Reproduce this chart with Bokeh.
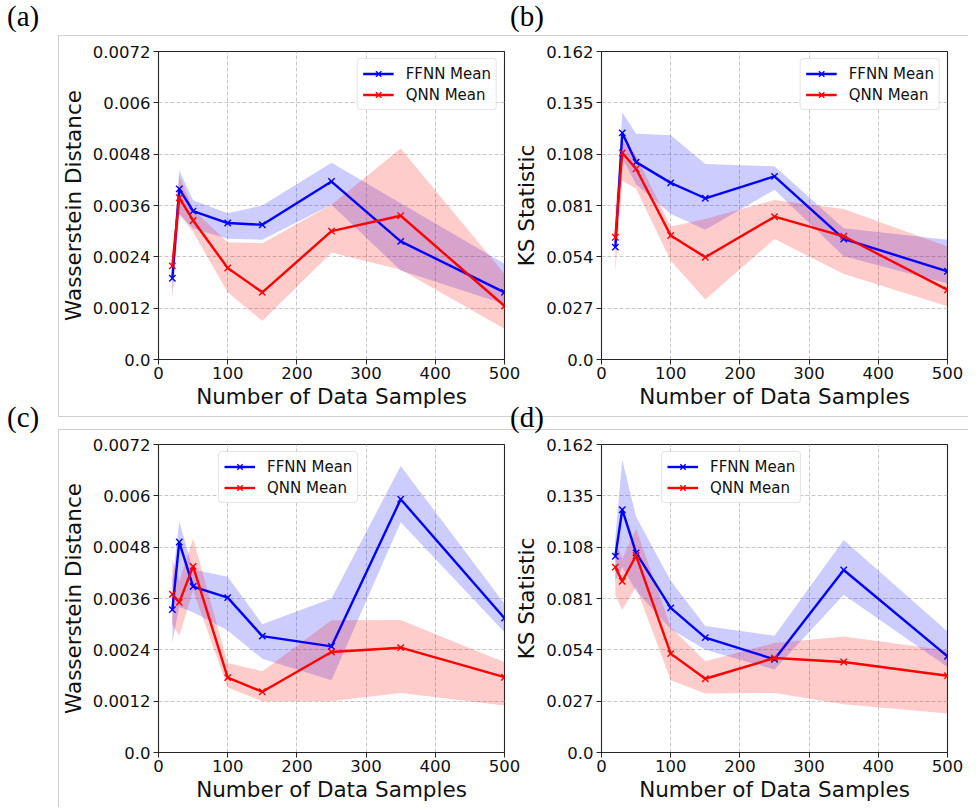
from bokeh.plotting import figure
from bokeh.layouts import column, row
from bokeh.models import Range1d, FixedTicker, Legend, LegendItem, Div
from bokeh.embed import file_html
from bokeh.resources import INLINE

# ---------------- data ----------------
x_samples = [20, 30, 50, 100, 150, 250, 350, 500]

# (a) Wasserstein distance
a_ffnn_mean = [0.00190, 0.00399, 0.00347, 0.00319, 0.00315, 0.00416, 0.00276, 0.00157]
a_ffnn_low = [0.00150, 0.00340, 0.00306, 0.00282, 0.00280, 0.00362, 0.00208, 0.00130]
a_ffnn_high = [0.00225, 0.00442, 0.00372, 0.00342, 0.00360, 0.00460, 0.00365, 0.00224]
a_qnn_mean = [0.00219, 0.00378, 0.00325, 0.00214, 0.00157, 0.00300, 0.00336, 0.00125]
a_qnn_low = [0.00142, 0.00340, 0.00298, 0.00157, 0.00090, 0.00250, 0.00210, 0.00072]
a_qnn_high = [0.00250, 0.00431, 0.00350, 0.00274, 0.00272, 0.00362, 0.00493, 0.00200]

# (b) KS statistic
b_ffnn_mean = [0.0591, 0.1192, 0.1038, 0.0929, 0.0848, 0.0963, 0.0634, 0.0464]
b_ffnn_low = [0.0560, 0.1060, 0.0920, 0.0766, 0.0683, 0.0893, 0.0543, 0.0400]
b_ffnn_high = [0.0620, 0.1300, 0.1187, 0.1180, 0.1028, 0.1016, 0.0690, 0.0630]
b_qnn_mean = [0.0643, 0.1087, 0.1003, 0.0652, 0.0538, 0.0751, 0.0648, 0.0366]
b_qnn_low = [0.0459, 0.0940, 0.0898, 0.0520, 0.0315, 0.0634, 0.0450, 0.0280]
b_qnn_high = [0.0800, 0.1150, 0.1073, 0.0699, 0.0739, 0.0839, 0.0792, 0.0594]

# (c) Wasserstein distance
c_ffnn_mean = [0.00334, 0.00492, 0.00388, 0.00362, 0.00272, 0.00248, 0.00592, 0.00314]
c_ffnn_low = [0.00258, 0.00340, 0.00328, 0.00285, 0.00219, 0.00169, 0.00538, 0.00281]
c_ffnn_high = [0.00400, 0.00540, 0.00428, 0.00411, 0.00300, 0.00360, 0.00670, 0.00348]
c_qnn_mean = [0.00370, 0.00351, 0.00435, 0.00175, 0.00142, 0.00235, 0.00245, 0.00176]
c_qnn_low = [0.00300, 0.00273, 0.00379, 0.00152, 0.00120, 0.00120, 0.00139, 0.00110]
c_qnn_high = [0.00450, 0.00400, 0.00500, 0.00209, 0.00190, 0.00309, 0.00310, 0.00211]

# (d) KS statistic
d_ffnn_mean = [0.1032, 0.1277, 0.1050, 0.0761, 0.0604, 0.0490, 0.0960, 0.0506]
d_ffnn_low = [0.0905, 0.0975, 0.0850, 0.0650, 0.0540, 0.0436, 0.0830, 0.0450]
d_ffnn_high = [0.1132, 0.1540, 0.1240, 0.0904, 0.0665, 0.0614, 0.1118, 0.0637]
d_qnn_mean = [0.0975, 0.0901, 0.1036, 0.0520, 0.0388, 0.0497, 0.0476, 0.0404]
d_qnn_low = [0.0826, 0.0751, 0.0870, 0.0380, 0.0310, 0.0313, 0.0254, 0.0205]
d_qnn_high = [0.1124, 0.1019, 0.1177, 0.0660, 0.0480, 0.0576, 0.0610, 0.0537]

x_ticks = [0, 100, 200, 300, 400, 500]
w_ticks = [0.0, 0.0012, 0.0024, 0.0036, 0.0048, 0.006, 0.0072]
w_tick_labels = ["0.0", "0.0012", "0.0024", "0.0036", "0.0048", "0.006", "0.0072"]
ks_ticks = [0.0, 0.027, 0.054, 0.081, 0.108, 0.135, 0.162]
ks_tick_labels = ["0.0", "0.027", "0.054", "0.081", "0.108", "0.135", "0.162"]

x_label = "Number of Data Samples"
w_label = "Wasserstein Distance"
ks_label = "KS Statistic"
series_names = ["FFNN Mean", "QNN Mean"]
panel_tags = ["(a)", "(b)", "(c)", "(d)"]

FONT = "DejaVu Sans"
BLUE = "#0000ff"
RED = "#ff0000"
FRAME_COL = "#cfcfcf"


def make_panel(fm, fl, fh, qm, ql, qh, yticks, ylabels, ylabel, width, height,
               bl, br, bt, bb, legend_loc, margin):
    p = figure(width=width, height=height, output_backend="svg",
               toolbar_location=None, x_range=Range1d(0, 500),
               y_range=Range1d(yticks[0], yticks[-1]),
               min_border_left=bl, min_border_right=br,
               min_border_top=bt, min_border_bottom=bb)
    p.margin = margin
    p.border_fill_alpha = 0
    p.outline_line_color = "#262626"
    p.outline_line_width = 1.1
    p.background_fill_color = "white"

    # bands
    p.varea(x=x_samples, y1=fl, y2=fh, fill_color=BLUE, fill_alpha=0.2)
    p.varea(x=x_samples, y1=ql, y2=qh, fill_color=RED, fill_alpha=0.2)
    # means
    lf = p.line(x_samples, fm, line_color=BLUE, line_width=2.4)
    sf = p.scatter(x_samples, fm, marker="x", size=9, line_color=BLUE, line_width=1.4)
    lq = p.line(x_samples, qm, line_color=RED, line_width=2.4)
    sq = p.scatter(x_samples, qm, marker="x", size=9, line_color=RED, line_width=1.4)

    for ax in (p.xaxis[0], p.yaxis[0]):
        ax.major_label_text_font = FONT
        ax.major_label_text_font_size = "16.5px"
        ax.major_label_text_color = "#111111"
        ax.axis_label_text_font = FONT
        ax.axis_label_text_font_size = "21.5px"
        ax.axis_label_text_font_style = "normal"
        ax.axis_label_text_color = "#111111"
        ax.major_tick_in = 0
        ax.major_tick_out = 5
        ax.minor_tick_in = 0
        ax.minor_tick_out = 0
        ax.axis_line_color = "#262626"
        ax.major_tick_line_color = "#262626"
    p.xaxis[0].ticker = FixedTicker(ticks=x_ticks)
    p.yaxis[0].ticker = FixedTicker(ticks=yticks)
    p.yaxis[0].major_label_overrides = {t: s for t, s in zip(yticks, ylabels)}
    p.xaxis[0].axis_label = x_label
    p.yaxis[0].axis_label = ylabel
    p.xaxis[0].major_label_standoff = 2
    p.xaxis[0].axis_label_standoff = 2
    p.yaxis[0].major_label_standoff = 3
    p.yaxis[0].axis_label_standoff = 4

    for g in (p.xgrid[0], p.ygrid[0]):
        g.grid_line_color = "#c8c8c8"
        g.grid_line_dash = "4 2"
        g.grid_line_width = 1
    p.xgrid[0].ticker = FixedTicker(ticks=x_ticks)
    p.ygrid[0].ticker = FixedTicker(ticks=yticks)

    leg = Legend(items=[LegendItem(label=series_names[0], renderers=[lf, sf]),
                        LegendItem(label=series_names[1], renderers=[lq, sq])])
    leg.location = legend_loc
    leg.margin = 7
    leg.padding = 5
    leg.spacing = 2
    leg.label_height = 19
    leg.glyph_height = 19
    leg.glyph_width = 31
    leg.label_standoff = 12
    leg.label_text_font = FONT
    leg.label_text_font_size = "15px"
    leg.label_text_color = "#111111"
    leg.border_line_color = "#cccccc"
    leg.border_line_width = 1
    leg.background_fill_alpha = 0.85
    if "border_radius" in leg.properties():
        leg.border_radius = 4
    p.add_layout(leg)
    return p


def tag(text, shift, margin):
    html = ('<div style="font-family:\'Liberation Serif\',serif;font-size:29px;'
            'line-height:33px;color:#000;white-space:nowrap;position:relative;'
            'left:7px;top:%dpx">%s</div>' % (shift, text))
    return Div(text=html, width=40, height=34, margin=margin)


# row 1 (page y 0..416)
ta = tag(panel_tags[0], 0, (0, 0, 0, 0))
pa = make_panel(a_ffnn_mean, a_ffnn_low, a_ffnn_high, a_qnn_mean, a_qnn_low, a_qnn_high,
                w_ticks, w_tick_labels, w_label, 522, 416, 158, 18, 51, 57,
                "top_right", (0, 0, 0, -40))
tb = tag(panel_tags[1], 0, (0, 0, 0, -19))
pb = make_panel(b_ffnn_mean, b_ffnn_low, b_ffnn_high, b_qnn_mean, b_qnn_low, b_qnn_high,
                ks_ticks, ks_tick_labels, ks_label, 466, 416, 99, 21, 51, 57,
                "top_right", (0, 0, 0, -41))

# row 2 (page y 406..807)
tc = tag(panel_tags[2], -5, (0, 0, 0, 0))
pc = make_panel(c_ffnn_mean, c_ffnn_low, c_ffnn_high, c_qnn_mean, c_qnn_low, c_qnn_high,
                w_ticks, w_tick_labels, w_label, 522, 401, 158, 18, 38, 55,
                (60, 249), (0, 0, 0, -40))
td = tag(panel_tags[3], -5, (0, 0, 0, -19))
pd_ = make_panel(d_ffnn_mean, d_ffnn_low, d_ffnn_high, d_qnn_mean, d_qnn_low, d_qnn_high,
                 ks_ticks, ks_tick_labels, ks_label, 466, 401, 99, 21, 38, 55,
                 (60, 249), (0, 0, 0, -41))

row1 = row(ta, pa, tb, pb)
row2 = row(tc, pc, td, pd_)
row2.margin = (-10, 0, 0, 0)

g = "linear-gradient(%s,%s)" % (FRAME_COL, FRAME_COL)
frame_styles = {
    "background-image": ", ".join([g] * 5),
    "background-position": "58px 35px, 58px 35px, 58px 416px, 58px 429px, 58px 429px",
    "background-size": "919px 1px, 1px 381px, 919px 1px, 919px 1px, 1px 380px",
    "background-repeat": "no-repeat",
}
layout = column(row1, row2, styles=frame_styles)
open("out.html", "w").write(file_html(layout, INLINE))
